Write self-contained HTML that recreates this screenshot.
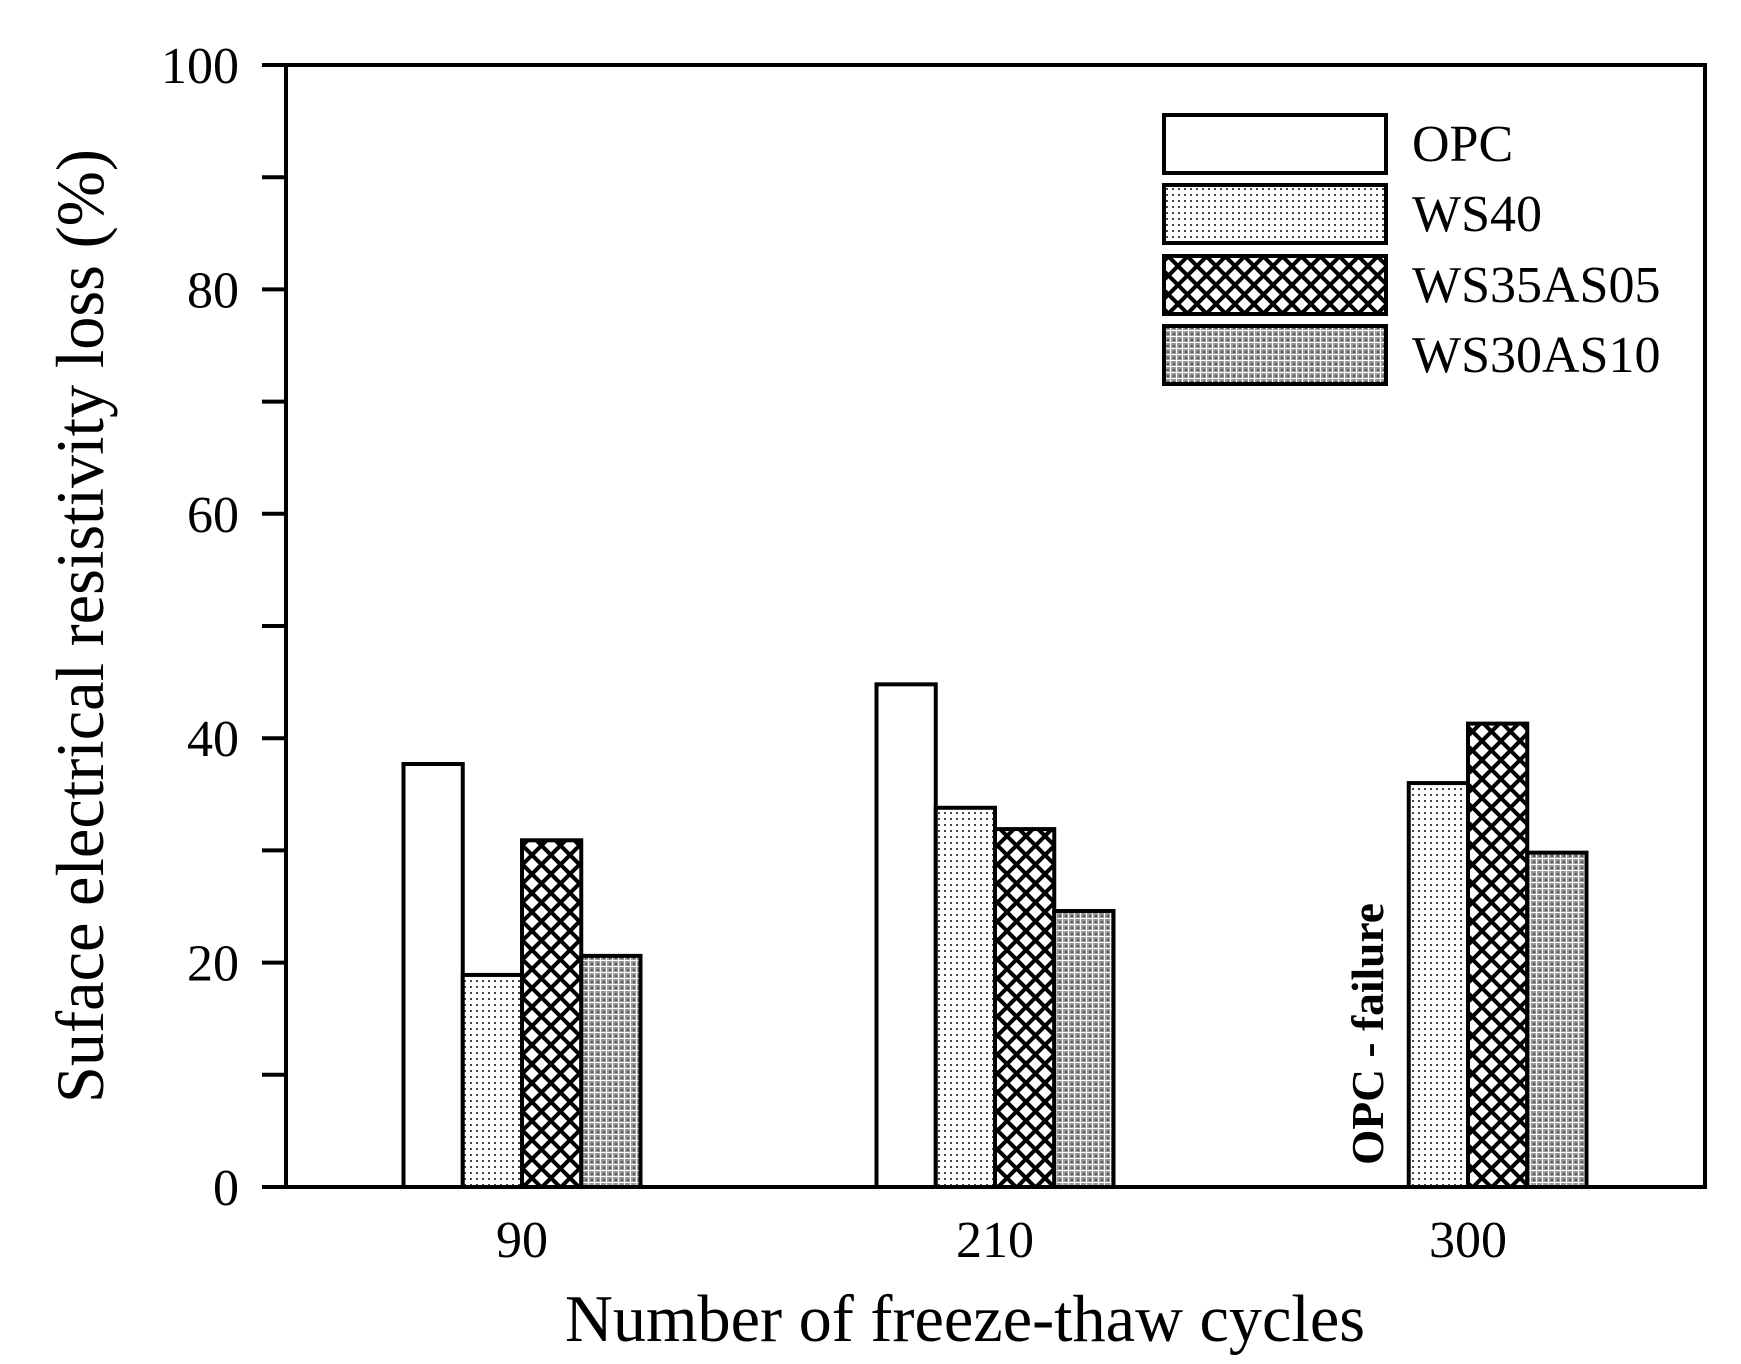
<!DOCTYPE html>
<html><head><meta charset="utf-8"><style>
html,body{margin:0;padding:0;background:#fff;}
svg{display:block;}
text{font-family:"Liberation Serif",serif;fill:#000;}
</style></head><body>
<svg id="chart" width="1741" height="1364" viewBox="0 0 1741 1364" xmlns="http://www.w3.org/2000/svg">
<defs>
<pattern id="pDots" width="6" height="6" patternUnits="userSpaceOnUse">
<rect width="6" height="6" fill="#fff"/><rect x="2" y="2" width="2" height="2" fill="#444"/>
</pattern>
<pattern id="pCross" width="19" height="19" patternUnits="userSpaceOnUse">
<rect width="19" height="19" fill="#fff"/>
<path d="M-2,-2 L21,21 M-2,21 L21,-2" stroke="#000" stroke-width="4"/>
</pattern>
<pattern id="pGrid" width="6" height="6" patternUnits="userSpaceOnUse">
<rect width="6" height="6" fill="#999"/><rect x="0" y="0" width="6" height="1" fill="#fff"/><rect x="0" y="0" width="1" height="6" fill="#fff"/><rect x="3" y="3" width="2" height="2" fill="#555"/>
</pattern>
</defs>
<g id="bars"></g>
<g id="axes"></g>
<g id="legend"></g>
</svg>
<script>
const categories = ["90","210","300"];
const seriesNames = ["OPC","WS40","WS35AS05","WS30AS10"];
const opcValues = [37.7, 44.8, null];
const ws40Values = [18.9, 33.8, 36.0];
const ws35Values = [30.9, 31.9, 41.3];
const ws30Values = [20.6, 24.6, 29.8];
const yTicks = [0,20,40,60,80,100];
const yMinorTicks = [10,30,50,70,90];

const NS="http://www.w3.org/2000/svg";
const X0=286, X1=1705, Y0=1187, Y100=65;
function yScale(v){return Y0-(v/100)*(Y0-Y100);}
function xCenter(i){return 522+i*473;}
const BW=59.25;
const fills=["#fff","url(#pDots)","url(#pCross)","url(#pGrid)"];
const allSeries=[opcValues,ws40Values,ws35Values,ws30Values];
function mk(tag,attrs,parent){const e=document.createElementNS(NS,tag);for(const k in attrs)e.setAttribute(k,attrs[k]);parent.appendChild(e);return e;}

const barsG=document.getElementById('bars');
allSeries.forEach((vals,s)=>{
  vals.forEach((v,i)=>{
    if(v===null)return;
    const x=xCenter(i)-2*BW+s*BW;
    const r=mk('rect',{x:x,y:yScale(v),width:BW,height:Y0-yScale(v),fill:fills[s],stroke:'#000','stroke-width':4},barsG);
    
    
  });
});
const fail=mk('text',{x:0,y:0,transform:'translate(1383,1165) rotate(-90)','font-size':46,'font-weight':'bold',textLength:262,lengthAdjust:'spacingAndGlyphs'},barsG);
fail.textContent='OPC - failure';



const ax=document.getElementById('axes');
const frame=mk('path',{d:`M${X0},${Y100} L${X1},${Y100} L${X1},${Y0} L${X0},${Y0} Z`,fill:'none',stroke:'#000','stroke-width':4},ax);


yTicks.forEach(t=>{
  const y=yScale(t);
  const l=mk('line',{x1:262,x2:X0,y1:y,y2:y,stroke:'#000','stroke-width':4},ax);
  
  
  const tx=mk('text',{x:239,y:y+18,'font-size':52,'text-anchor':'end'},ax);
  tx.textContent=t;
  
  
});
yMinorTicks.forEach(t=>{
  const y=yScale(t);
  const l=mk('line',{x1:262,x2:X0,y1:y,y2:y,stroke:'#000','stroke-width':4},ax);
  
  
});
categories.forEach((c,i)=>{
  const tx=mk('text',{x:xCenter(i),y:1257,'font-size':52,'text-anchor':'middle'},ax);
  tx.textContent=c;
  
  
});
const xt=mk('text',{x:965,y:1341,'font-size':67,'text-anchor':'middle',textLength:800,lengthAdjust:'spacingAndGlyphs'},ax);
xt.textContent='Number of freeze-thaw cycles';


const yt=mk('text',{x:0,y:0,transform:'translate(103,626) rotate(-90)','font-size':68,'text-anchor':'middle',textLength:954,lengthAdjust:'spacingAndGlyphs'},ax);
yt.textContent='Suface electrical resistivity loss (%)';



const lg=document.getElementById('legend');
const swTops=[115,185,256,326];
seriesNames.forEach((n,s)=>{
  const g=mk('g',{},lg);
  
  
  mk('rect',{x:1164,y:swTops[s],width:222,height:58,fill:fills[s],stroke:'#000','stroke-width':4},g);
  const t=mk('text',{x:1412,y:swTops[s]+46,'font-size':52},g);
  t.textContent=n;
});
</script>
</body></html>
